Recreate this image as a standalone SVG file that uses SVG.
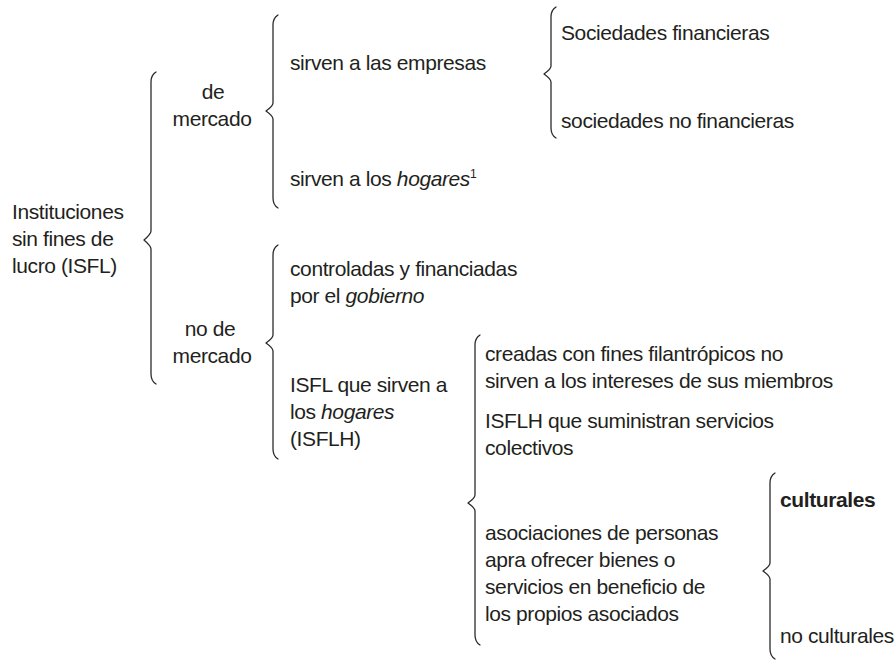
<svg xmlns="http://www.w3.org/2000/svg" width="896" height="669" viewBox="0 0 896 669">
<style>
text{font-family:"Liberation Sans",Arial,sans-serif;font-size:21px;letter-spacing:-0.4px;fill:#231f20}
.it{font-style:italic}
.b{font-weight:bold}
.c{text-anchor:middle}
.sup{font-size:12px}
.br{fill:none;stroke:#2b2b2b;stroke-width:1.3;stroke-linecap:round;stroke-linejoin:round}
</style>
<rect width="896" height="669" fill="#ffffff"/>
<g id="connectors">
<path class="br" d="M156,72 Q151,75 151,82 L151,231 Q151,234 144,240 Q151,246 151,249 L151,374 Q151,381 156,384"/>
<path class="br" d="M278,15 Q273,18 273,25 L273,103 Q273,106 266,111 Q273,116 273,119 L273,198 Q273,205 278,208"/>
<path class="br" d="M556,7 Q551,10 551,17 L551,66 Q551,69 544,74 Q551,79 551,82 L551,128 Q551,135 556,138"/>
<path class="br" d="M278,245 Q273,248 273,255 L273,335 Q273,338 266,343 Q273,348 273,351 L273,449 Q273,456 278,459"/>
<path class="br" d="M480,335 Q475,338 475,345 L475,495 Q475,498 468,503 Q475,508 475,511 L475,635 Q475,642 480,645"/>
<path class="br" d="M775,473 Q770,476 770,483 L770,563 Q770,566 763,571 Q770,576 770,579 L770,649 Q770,656 775,659"/>
</g>
<g id="root"><text x="12" y="219">Instituciones</text><text x="12" y="246">sin fines de</text><text x="12" y="273">lucro (ISFL)</text></g>
<g id="de-mercado"><text class="c" x="213" y="99">de</text><text class="c" x="212" y="126">mercado</text></g>
<g id="no-de-mercado"><text class="c" x="210" y="336">no de</text><text class="c" x="212" y="363">mercado</text></g>
<g id="empresas"><text x="290" y="70">sirven a las empresas</text></g>
<g id="hogares"><text x="290" y="186">sirven a los <tspan class="it">hogares</tspan><tspan class="sup" dy="-8">1</tspan></text></g>
<g id="soc-fin"><text x="561" y="40">Sociedades financieras</text></g>
<g id="soc-nofin"><text x="561" y="128">sociedades no financieras</text></g>
<g id="gobierno"><text x="290" y="276">controladas y financiadas</text><text x="290" y="303">por el <tspan class="it">gobierno</tspan></text></g>
<g id="isflh"><text x="290" y="392">ISFL que sirven a</text><text x="290" y="419">los <tspan class="it">hogares</tspan></text><text x="290" y="446">(ISFLH)</text></g>
<g id="filantropicos"><text x="485" y="361">creadas con fines filantrópicos no</text><text x="485" y="388">sirven a los intereses de sus miembros</text></g>
<g id="colectivos"><text x="485" y="428">ISFLH que suministran servicios</text><text x="485" y="455">colectivos</text></g>
<g id="asociaciones"><text x="485" y="540">asociaciones de personas</text><text x="485" y="567">apra ofrecer bienes o</text><text x="485" y="594">servicios en beneficio de</text><text x="485" y="621">los propios asociados</text></g>
<g id="culturales"><text class="b" x="780" y="507">culturales</text></g>
<g id="no-culturales"><text x="780" y="643">no culturales</text></g>
</svg>
